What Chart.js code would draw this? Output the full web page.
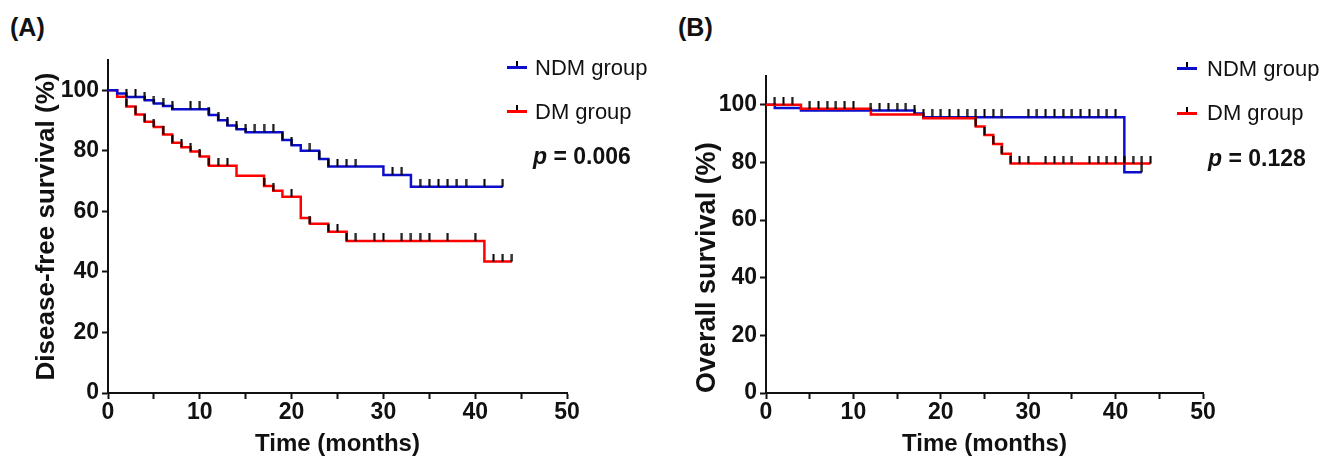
<!DOCTYPE html>
<html>
<head>
<meta charset="utf-8">
<script src="https://cdn.jsdelivr.net/npm/chart.js@4.4.0/dist/chart.umd.min.js"></script>
<style>
body { margin: 0; background: #fff; width: 1325px; height: 462px; position: relative; overflow: hidden;
       font-family: "Liberation Sans", Arial, sans-serif; color: #111; }
canvas { position: absolute; top: 0; }
.lab { position: absolute; font-weight: bold; font-size: 25px; line-height: 25px; }
.leg { position: absolute; font-size: 22px; line-height: 22px; white-space: nowrap; }
.pv { position: absolute; font-size: 23px; line-height: 23px; font-weight: bold; white-space: nowrap; }
.key { position: absolute; width: 20px; height: 3px; }
.key i { position: absolute; left: 9px; top: -5px; width: 2px; height: 5px; background: #000; }
</style>
</head>
<body>

<div class="lab" style="left:10px;top:15px">(A)</div>
<div class="lab" style="left:678px;top:15px">(B)</div>

<canvas id="chartA" width="600" height="462" style="left:0"></canvas>
<canvas id="chartB" width="665" height="462" style="left:660px"></canvas>

<div class="key" style="left:507px;top:66px;background:#0d0dcc"><i></i></div>
<div class="leg" id="legA1" style="left:535px;top:57px"></div>
<div class="key" style="left:507px;top:110px;background:#ff0000"><i></i></div>
<div class="leg" id="legA2" style="left:535px;top:101px"></div>
<div class="pv" id="pA" style="left:533px;top:145px"></div>

<div class="key" style="left:1177px;top:67px;background:#0d0dcc"><i></i></div>
<div class="leg" id="legB1" style="left:1207px;top:58px"></div>
<div class="key" style="left:1177px;top:112px;background:#ff0000"><i></i></div>
<div class="leg" id="legB2" style="left:1207px;top:102px"></div>
<div class="pv" id="pB" style="left:1208px;top:147px"></div>

<script>
// (A) disease-free survival
const dfsNdmTime = [0, 1, 2, 4, 5, 6, 7, 11, 12, 13, 14, 15, 19, 20, 21, 23, 24, 30, 33, 43];
const dfsNdmSurv = [100, 98.9, 97.8, 96.7, 95.6, 94.8, 93.7, 91.8, 90.1, 88.4, 87.1, 86.1, 83.6, 81.8, 80.0, 77.3, 74.8, 72.0, 68.1, 68.1];
const dfsNdmCens = [2, 3, 4, 5, 6, 7, 9, 10, 11, 12, 13, 14, 15, 16, 17, 18, 19, 20, 22, 23, 24, 25, 26, 27, 31, 32, 34, 35, 36, 37, 38, 39, 41, 43];

const dfsDmTime = [0, 1, 2, 3, 4, 5, 6, 7, 8, 9, 10, 11, 14, 17, 18, 19, 21, 22, 24, 26, 41, 44];
const dfsDmSurv = [100, 97.9, 94.6, 92.0, 89.6, 87.9, 85.4, 82.7, 81.2, 79.8, 78.1, 75.1, 71.8, 68.4, 66.8, 64.8, 57.8, 55.9, 53.3, 50.2, 43.4, 43.4];
const dfsDmCens = [2, 3, 4, 5, 6, 7, 8, 9, 10, 11, 12, 13, 17, 18, 20, 22, 24, 25, 26, 27, 29, 30, 32, 33, 34, 35, 37, 40, 42, 43, 44];

// (B) overall survival
const osNdmTime = [0, 1, 4, 17, 18, 41, 43];
const osNdmSurv = [100, 98.9, 98.0, 97.0, 95.7, 76.6, 76.6];
const osNdmCens = [12, 13, 14, 15, 16, 17, 18, 19, 20, 21, 22, 23, 24, 25, 26, 27, 30, 31, 32, 33, 34, 35, 36, 37, 38, 39, 40, 43];

const osDmTime = [0, 4, 12, 18, 24, 25, 26, 27, 28, 44];
const osDmSurv = [100, 98.6, 96.6, 95.3, 92.5, 89.5, 86.4, 83.0, 79.6, 79.6];
const osDmCens = [1, 2, 3, 5, 6, 7, 8, 9, 10, 24, 25, 26, 27, 28, 29, 30, 32, 33, 34, 35, 37, 38, 39, 40, 41, 42, 43, 44];

const groupLabels = ["NDM group", "DM group"];
const pValues = ["0.006", "0.128"];

const FONT = "'Liberation Sans', Arial, sans-serif";
const BLUE = "#0d0dcc";
const RED = "#ff0000";

document.getElementById("legA1").textContent = groupLabels[0];
document.getElementById("legA2").textContent = groupLabels[1];
document.getElementById("legB1").textContent = groupLabels[0];
document.getElementById("legB2").textContent = groupLabels[1];
document.getElementById("pA").innerHTML = "<i>p</i> = " + pValues[0];
document.getElementById("pB").innerHTML = "<i>p</i> = " + pValues[1];

// censor mark: short black bar standing up from the point
const tickMark = document.createElement("canvas");
tickMark.width = 3;
tickMark.height = 16;
const tg = tickMark.getContext("2d");
tg.fillStyle = "#000";
tg.fillRect(0.5, 0, 2, 8);

function survAt(times, surv, t) {
    let v = surv[0];
    for (let i = 0; i < times.length; i++) {
        if (times[i] <= t) v = surv[i];
    }
    return v;
}

function curve(times, surv, color) {
    return {
        data: times.map((t, i) => ({x: t, y: surv[i]})),
        borderColor: color,
        borderWidth: 2.5,
        stepped: true,
        pointRadius: 0,
        fill: false
    };
}

function censors(times, surv, cens) {
    return {
        data: cens.map(t => ({x: t, y: survAt(times, surv, t)})),
        showLine: false,
        pointStyle: tickMark,
        pointRadius: 4
    };
}

function kmChart(id, o) {
    new Chart(document.getElementById(id), {
        type: "line",
        data: {datasets: o.datasets},
        options: {
            responsive: false,
            animation: false,
            layout: {padding: {top: o.top, right: o.right, left: 0, bottom: 0}},
            plugins: {legend: {display: false}, tooltip: {enabled: false}},
            scales: {
                x: {
                    type: "linear", min: 0, max: 50,
                    border: {color: "#111", width: 2},
                    grid: {drawOnChartArea: false, tickLength: 6, tickWidth: 2, tickColor: "#111"},
                    ticks: {
                        stepSize: 5, autoSkip: false, maxRotation: 0, padding: 0, color: "#111",
                        font: {family: FONT, size: 23, weight: "bold"},
                        callback: v => v % 10 === 0 ? v : ""
                    },
                    title: {
                        display: true, text: "Time (months)", color: "#111",
                        font: {family: FONT, size: 24, weight: "bold"},
                        padding: {top: 0, bottom: 3}
                    },
                    afterFit: s => { s.height = 69; }
                },
                y: {
                    min: 0, max: 110,
                    border: {color: "#111", width: 2},
                    grid: {drawOnChartArea: false, tickLength: 6, tickWidth: 2, tickColor: "#111"},
                    ticks: {
                        stepSize: 20, includeBounds: false, padding: 3, color: "#111",
                        font: {family: FONT, size: 23, weight: "bold"}
                    },
                    title: {
                        display: true, text: o.yTitle, align: o.yAlign, color: "#111",
                        font: {family: FONT, size: o.titleSize, weight: "bold"},
                        padding: {top: o.titlePad, bottom: 0}
                    },
                    afterFit: s => { s.width = o.yWidth; }
                }
            }
        }
    });
}

kmChart("chartA", {
    top: 60, right: 33, yWidth: 108, titlePad: 31, titleSize: 26, yAlign: "center",
    yTitle: "Disease-free survival (%)",
    datasets: [
        censors(dfsNdmTime, dfsNdmSurv, dfsNdmCens),
        censors(dfsDmTime, dfsDmSurv, dfsDmCens),
        curve(dfsNdmTime, dfsNdmSurv, BLUE),
        curve(dfsDmTime, dfsDmSurv, RED)
    ]
});

kmChart("chartB", {
    top: 76, right: 122, yWidth: 106, titlePad: 31, titleSize: 27, yAlign: "start",
    yTitle: "Overall survival (%)",
    datasets: [
        censors(osNdmTime, osNdmSurv, osNdmCens),
        censors(osDmTime, osDmSurv, osDmCens),
        curve(osDmTime, osDmSurv, RED),
        curve(osNdmTime, osNdmSurv, BLUE)
    ]
});
</script>
</body>
</html>
